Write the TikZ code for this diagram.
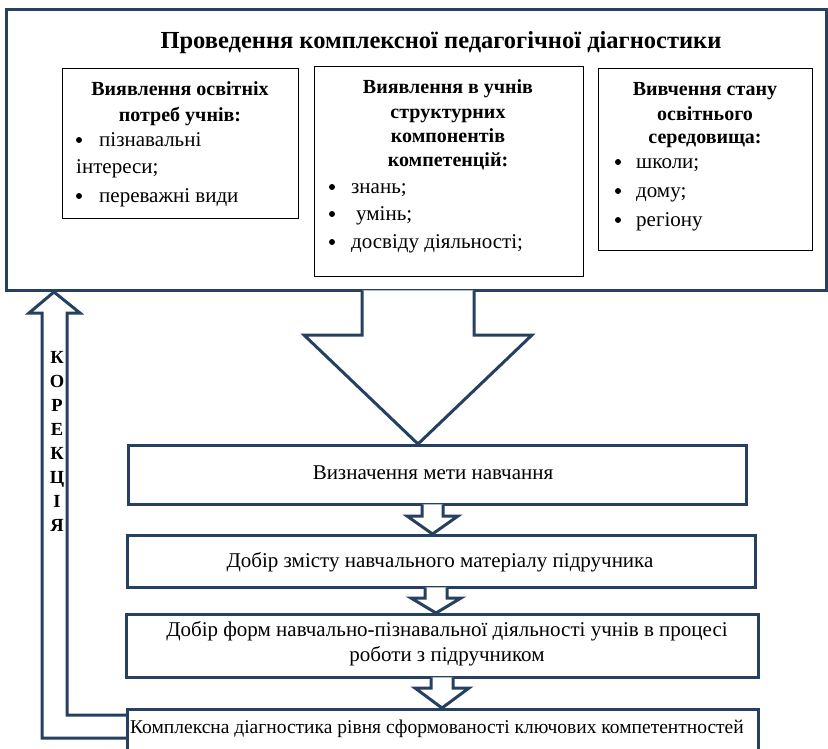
\documentclass[tikz,border=0pt]{standalone}
\usepackage{fontspec}
\setmainfont{Liberation Serif}
\usetikzlibrary{calc}
\definecolor{navy}{HTML}{254061}

% block arrow: from node, to node, x of the axis, stem half width, head half width, shoulder depth
\newcommand\blockarrow[6]{%
  \draw[frame, fill=white]
    ($(#3-#4,0 |- #1.south)+(0,-1.6)$) -- ($(#3-#4,0 |- #1.south)+(0,#6)$)
    -- ($(#3-#5,0 |- #1.south)+(0,#6)$) -- (#3,0 |- #2.north)
    -- ($(#3+#5,0 |- #1.south)+(0,#6)$) -- ($(#3+#4,0 |- #1.south)+(0,#6)$)
    -- ($(#3+#4,0 |- #1.south)+(0,-1.6)$);}

\begin{document}
\begin{tikzpicture}[x=1pt, y=-1pt, inner sep=0pt,
                    every node/.style={font=\fontsize{21}{24}\selectfont},
                    frame/.style={draw=navy, line width=3pt, line join=miter},
                    inbox/.style={draw=black, line width=1.2pt, anchor=north west},
                    stepbox/.style={frame, anchor=north west},
                    head/.style={anchor=base, font=\bfseries\fontsize{20}{24}\selectfont},
                    item/.style={anchor=base west},
                    dot/.style={circle, fill=black, minimum size=6pt}]
\clip (0,0) rectangle (828,748);

\node[frame, anchor=north west, minimum width=820pt, minimum height=281pt] (diag) at (5,8) {};
\node[anchor=base, font=\bfseries\fontsize{24.5}{28}\selectfont] (title) at (441,48)
  {Проведення комплексної педагогічної діагностики};

% inner boxes
\node[inbox, minimum width=236pt, minimum height=150pt] (needs) at (62,68) {};
\node[inbox, minimum width=269pt, minimum height=210pt] (comps) at (314,66) {};
\node[inbox, minimum width=214pt, minimum height=182pt] (milieu) at (598,68) {};

\node[head] (needs1) at (180,95) {Виявлення освітніх};
\node[head] (needs2) at (180,121) {потреб учнів:};
\node[dot] (nb1) at (79,140) {};
\node[item] (ni1) at (99,146) {пізнавальні};
\node[item] (ni2) at (76,173) {інтереси;};
\node[dot] (nb2) at (79,196) {};
\node[item] (ni3) at (99,202) {переважні види};

\node[head] (comps1) at (448,93) {Виявлення в учнів};
\node[head] (comps2) at (448,118) {структурних};
\node[head] (comps3) at (448,142) {компонентів};
\node[head] (comps4) at (448,166) {компетенцій:};
\node[dot] (cb1) at (332,187) {};
\node[item] (ci1) at (351,193) {знань;};
\node[dot] (cb2) at (332,214) {};
\node[item] (ci2) at (356,220) {умінь;};
\node[dot] (cb3) at (332,242) {};
\node[item] (ci3) at (351,248) {досвіду діяльності;};

\node[head] (milieu1) at (705,95) {Вивчення стану};
\node[head] (milieu2) at (705,120) {освітнього};
\node[head] (milieu3) at (705,143) {середовища:};
\node[dot] (mb1) at (618,162) {};
\node[item] (mi1) at (636,168) {школи;};
\node[dot] (mb2) at (618,191) {};
\node[item] (mi2) at (636,197) {дому;};
\node[dot] (mb3) at (618,220) {};
\node[item] (mi3) at (636,226) {регіону};

% steps
\node[stepbox, minimum width=618pt, minimum height=59pt] (goal) at (127,444) {};
\node[anchor=base] (goalt) at (433,479) {Визначення мети навчання};
\node[stepbox, minimum width=628pt, minimum height=52pt] (content) at (126,534) {};
\node[anchor=base] (contentt) at (440,567) {Добір змісту навчального матеріалу підручника};
\node[stepbox, minimum width=632pt, minimum height=63pt] (forms) at (125,613) {};
\node[anchor=base] (forms1) at (447,636) {Добір форм навчально-пізнавальної діяльності учнів в процесі};
\node[anchor=base] (forms2) at (447,661) {роботи з підручником};
\node[stepbox, minimum width=631pt, minimum height=42pt] (check) at (126,708) {};
\node[anchor=base, font=\fontsize{19.5}{22}\selectfont] (checkt) at (437,733)
  {Комплексна діагностика рівня сформованості ключових компетентностей};

\blockarrow{diag}{goal}{418}{56}{114}{43}
\blockarrow{goal}{content}{432.5}{10.5}{25.5}{10}
\blockarrow{content}{forms}{436}{11}{25}{9}
\blockarrow{forms}{check}{442}{11}{27}{9}

% correction
\draw[frame] ($(check.north west)+(0,7)$) -| (67,313) -- (80,313) -- (54,0 |- diag.south)
  -- (29,313) -- (42,313) |- ($(check.north west)+(0,30)$);
\foreach \l [count=\i from 0] in {К,О,Р,Е,К,Ц,І,Я}
  \node[anchor=base, font=\bfseries\fontsize{18.5}{20}\selectfont] (corr\i) at (57,363+24*\i) {\l};
\end{tikzpicture}
\end{document}
